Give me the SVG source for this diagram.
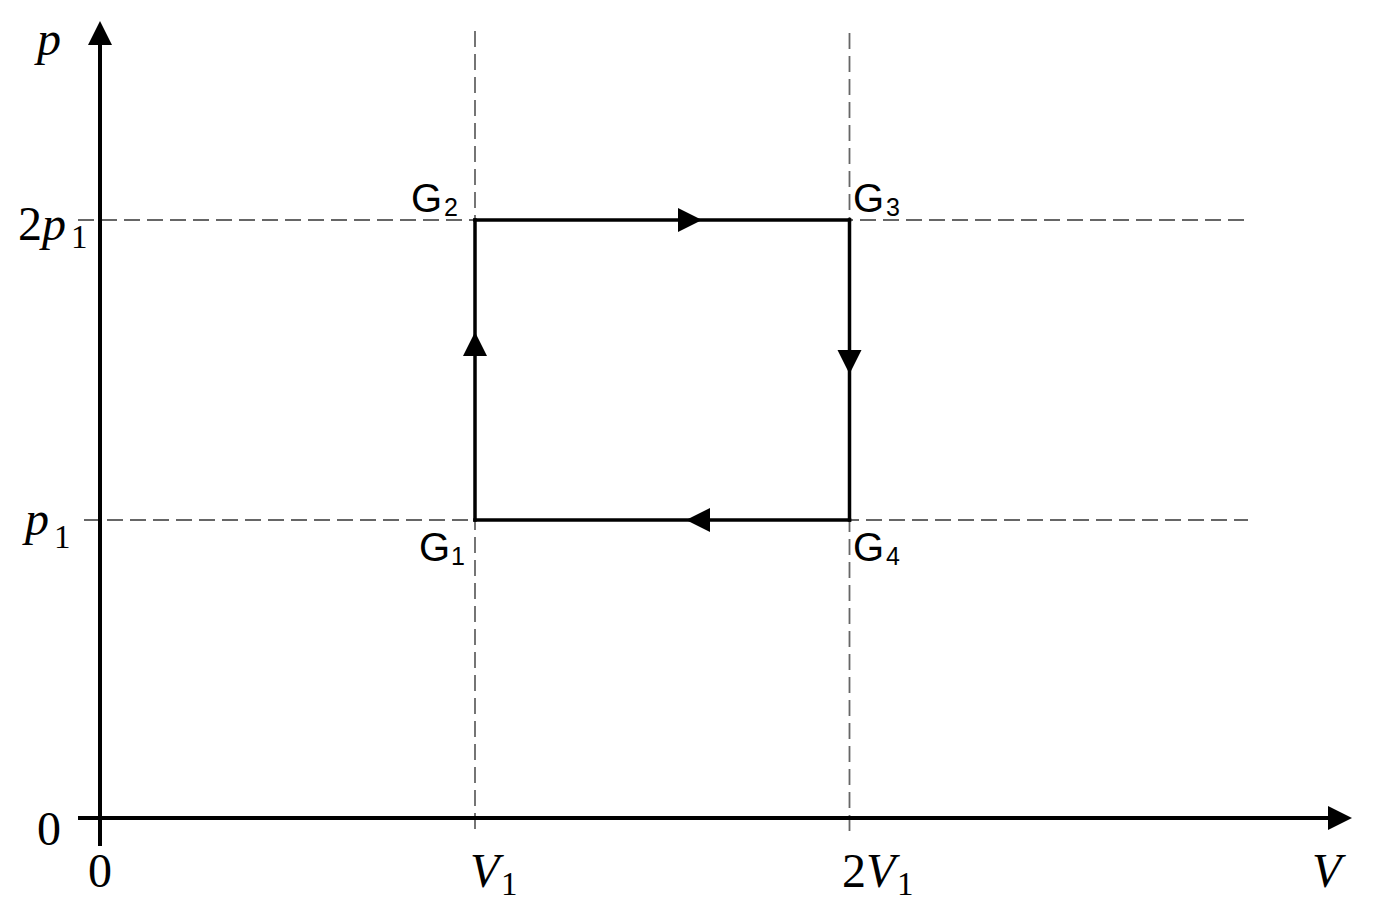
<svg xmlns="http://www.w3.org/2000/svg" xmlns:xlink="http://www.w3.org/1999/xlink" width="1373" height="917" viewBox="0 0 1373 917">
<style>
.axis{stroke:#000;stroke-width:4;fill:none}
.edge{stroke:#000;stroke-width:3.5;fill:none;stroke-linecap:square}
.dash{stroke:#666;stroke-width:1.8;stroke-dasharray:16 7;fill:none}
.math{font-family:"Liberation Serif","Times New Roman",serif;font-size:48px;fill:#000}
.it{font-style:italic}
.sub{font-size:33px}
.lbl{font-family:"Liberation Sans",Arial,sans-serif;font-size:40px;fill:#000}
.lsub{font-size:25px}
</style>
<defs>
<path id="ah" d="M0,0 L-24,-12 L-24,12 Z" fill="#000"/>
</defs>
<rect width="1373" height="917" fill="#fff"/>
<g id="guides">
<line class="dash" x1="78" y1="220" x2="1248" y2="220"/>
<line class="dash" x1="84" y1="520" x2="1248" y2="520"/>
<line class="dash" x1="475" y1="31" x2="475" y2="835"/>
<line class="dash" x1="849.5" y1="33" x2="849.5" y2="835"/>
</g>
<g id="axes">
<line class="axis" x1="100" y1="846" x2="100" y2="40"/>
<use xlink:href="#ah" transform="translate(100,21) rotate(-90)"/>
<line class="axis" x1="78" y1="818" x2="1335" y2="818"/>
<use xlink:href="#ah" transform="translate(1352,818)"/>
</g>
<g id="axis-labels">
<text class="math it" x="49" y="55" text-anchor="middle">p</text>
<text class="math"><tspan x="18" y="240">2</tspan><tspan class="it" x="42" y="240">p</tspan><tspan class="sub" x="71" y="248">1</tspan></text>
<text class="math"><tspan class="it" x="25" y="535">p</tspan><tspan class="sub" x="54" y="548">1</tspan></text>
<text class="math" x="49" y="845" text-anchor="middle">0</text>
<text class="math" x="100" y="887" text-anchor="middle">0</text>
<text class="math"><tspan class="it" x="470" y="887">V</tspan><tspan class="sub" x="501" y="895">1</tspan></text>
<text class="math"><tspan x="842" y="887">2</tspan><tspan class="it" x="866" y="887">V</tspan><tspan class="sub" x="897" y="895">1</tspan></text>
<text class="math it" x="1312" y="887">V</text>
</g>
<g id="connectors">
<line class="edge" x1="475" y1="520" x2="475" y2="220"/>
<line class="edge" x1="475" y1="220" x2="849.5" y2="220"/>
<line class="edge" x1="849.5" y1="220" x2="849.5" y2="520"/>
<line class="edge" x1="849.5" y1="520" x2="475" y2="520"/>
<use xlink:href="#ah" transform="translate(475,332) rotate(-90)"/>
<use xlink:href="#ah" transform="translate(702,220)"/>
<use xlink:href="#ah" transform="translate(849.5,374) rotate(90)"/>
<use xlink:href="#ah" transform="translate(686,520) rotate(180)"/>
</g>
<g id="G1"><text class="lbl"><tspan x="419" y="561">G</tspan><tspan class="lsub" x="451" y="565">1</tspan></text></g>
<g id="G2"><text class="lbl"><tspan x="411" y="212">G</tspan><tspan class="lsub" x="444" y="216">2</tspan></text></g>
<g id="G3"><text class="lbl"><tspan x="853" y="212">G</tspan><tspan class="lsub" x="886" y="216">3</tspan></text></g>
<g id="G4"><text class="lbl"><tspan x="853" y="561">G</tspan><tspan class="lsub" x="886" y="565">4</tspan></text></g>
</svg>
